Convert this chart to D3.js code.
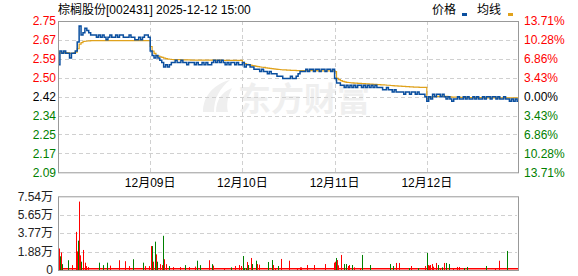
<html>
<head>
<meta charset="utf-8">
<script src="https://d3js.org/d3.v7.min.js"></script>
<style>
body { margin: 0; background: #fff; }
svg text { font-family: "Liberation Sans", Arial, "Noto Sans CJK SC", sans-serif; font-size: 12px; }
</style>
</head>
<body>
<svg id="chart" width="578" height="276"></svg>
<script>
var title = "棕榈股份[002431] 2025-12-12 15:00";
var preClose = 2.42;
var dayLabels = ["12月09日", "12月10日", "12月11日", "12月12日"];
var priceTicks = ["2.75", "2.67", "2.59", "2.50", "2.42", "2.34", "2.25", "2.17", "2.09"];
var pctTicks = ["13.71%", "10.28%", "6.86%", "3.43%", "0.00%", "3.43%", "6.86%", "10.28%", "13.71%"];
var volTicks = ["7.54万", "5.65万", "3.77万", "1.88万", "0"];

// price every 5 minutes, 48 per day
var day1Price = [2.56,2.62,2.61,2.62,2.61,2.61,2.59,2.61,2.61,2.62,2.66,2.73,2.69,2.70,2.72,2.71,
  2.70,2.69,2.69,2.69,2.68,2.69,2.68,2.69,2.68,2.67,2.68,2.69,2.68,2.68,2.69,2.68,
  2.69,2.69,2.68,2.68,2.68,2.69,2.68,2.68,2.67,2.67,2.68,2.67,2.68,2.69,2.69,2.68];
var day2Price = [2.62,2.60,2.59,2.60,2.59,2.58,2.57,2.55,2.56,2.55,2.56,2.57,2.57,2.58,2.57,2.57,
  2.58,2.57,2.57,2.56,2.57,2.57,2.57,2.56,2.57,2.56,2.56,2.57,2.56,2.57,2.56,2.56,
  2.57,2.58,2.57,2.58,2.57,2.58,2.57,2.56,2.57,2.56,2.57,2.57,2.56,2.57,2.56,2.56];
var day3Price = [2.57,2.55,2.56,2.56,2.55,2.55,2.54,2.54,2.54,2.53,2.54,2.53,2.53,2.52,2.53,2.52,
  2.52,2.52,2.51,2.51,2.51,2.50,2.50,2.50,2.50,2.51,2.50,2.50,2.51,2.52,2.53,2.53,
  2.53,2.54,2.53,2.54,2.54,2.53,2.54,2.54,2.53,2.54,2.54,2.53,2.54,2.54,2.53,2.54];
var day4Price = [2.50,2.48,2.48,2.47,2.47,2.46,2.47,2.46,2.47,2.46,2.47,2.46,2.47,2.47,2.46,2.47,
  2.46,2.47,2.46,2.47,2.46,2.47,2.46,2.46,2.46,2.45,2.45,2.46,2.45,2.45,2.44,2.45,
  2.44,2.44,2.44,2.44,2.43,2.44,2.44,2.43,2.44,2.44,2.43,2.44,2.43,2.43,2.43,2.42];
var day5Price = [2.40,2.42,2.41,2.43,2.42,2.43,2.43,2.42,2.43,2.42,2.41,2.42,2.41,2.40,2.41,2.41,
  2.42,2.41,2.41,2.42,2.41,2.42,2.41,2.41,2.42,2.41,2.42,2.41,2.41,2.42,2.41,2.42,
  2.42,2.41,2.42,2.42,2.41,2.42,2.41,2.41,2.42,2.41,2.41,2.40,2.41,2.40,2.41,2.40];

var day1Avg = [2.610,2.612,2.612,2.613,2.613,2.612,2.610,2.610,2.612,2.615,2.630,2.650,2.657,2.662,2.663,2.664,
  2.665,2.666,2.666,2.666,2.666,2.666,2.666,2.666,2.666,2.666,2.666,2.666,2.666,2.666,2.666,2.666,
  2.666,2.666,2.666,2.666,2.666,2.666,2.666,2.666,2.666,2.666,2.666,2.666,2.666,2.666,2.666,2.666];
var day2Avg = [2.640,2.620,2.610,2.600,2.598,2.595,2.592,2.589,2.587,2.585,2.584,2.583,2.582,2.582,2.582,2.582,
  2.581,2.581,2.581,2.581,2.581,2.580,2.580,2.580,2.580,2.580,2.580,2.580,2.580,2.580,2.580,2.580,
  2.580,2.580,2.580,2.580,2.580,2.579,2.579,2.579,2.579,2.579,2.579,2.579,2.579,2.579,2.579,2.579];
var day3Avg = [2.570,2.565,2.562,2.560,2.558,2.556,2.555,2.553,2.552,2.550,2.549,2.548,2.546,2.545,2.544,2.543,
  2.542,2.541,2.540,2.539,2.538,2.537,2.537,2.536,2.536,2.535,2.535,2.535,2.534,2.534,2.534,2.534,
  2.534,2.534,2.534,2.534,2.534,2.534,2.534,2.533,2.533,2.533,2.533,2.533,2.533,2.533,2.533,2.533];
var day4Avg = [2.530,2.500,2.495,2.490,2.487,2.485,2.483,2.482,2.481,2.480,2.479,2.479,2.478,2.478,2.477,2.477,
  2.476,2.476,2.475,2.475,2.474,2.474,2.473,2.473,2.472,2.472,2.471,2.470,2.470,2.469,2.468,2.467,
  2.467,2.466,2.466,2.465,2.465,2.464,2.464,2.463,2.463,2.462,2.462,2.462,2.461,2.461,2.461,2.461];
var day5Avg = [2.410,2.418,2.418,2.420,2.420,2.421,2.421,2.421,2.421,2.421,2.421,2.419,2.419,2.418,2.418,2.418,
  2.418,2.417,2.417,2.417,2.417,2.417,2.416,2.416,2.416,2.416,2.416,2.416,2.416,2.416,2.416,2.415,
  2.415,2.415,2.415,2.415,2.415,2.415,2.415,2.415,2.415,2.415,2.415,2.415,2.415,2.415,2.415,2.415];

// volume bars: minute index (240 per day), amount in 万, 1 = up (red) / 0 = down (green)
var volMinute = [3,6,8,11,26,36,48,50,53,55,
  57,61,64,66,69,73,77,108,118,128,
  135,158,174,186,194,220,226,238,242,245,
  248,252,255,258,265,270,273,276,281,290,
  300,318,331,340,357,363,370,394,400,404,
  432,450,462,472,477,482,485,489,493,495,
  503,506,515,517,524,547,558,560,565,573,
  581,600,623,629,633,649,667,696,718,720,
  724,725,728,737,745,750,756,758,766,770,
  785,792,813,865,873,881,888,914,920,938,
  956,961,964,966,969,974,977,985,990,995,
  1000,1006,1011,1019,1029,1039,1045,1058,1065,1115,
  1138,1149,1170,1198];
var volAmount = [2.2,1.4,1.8,0.6,1.0,0.5,3.9,1.9,3.0,7.0,
  1.5,0.85,1.9,2.05,0.75,0.4,0.3,0.75,0.5,0.75,
  0.45,1.0,0.9,0.4,1.1,0.75,0.4,0.4,2.45,2.45,
  0.85,2.9,1.6,0.85,0.6,0.5,3.5,1.1,0.6,0.4,
  0.3,0.3,0.5,0.3,0.35,0.95,0.5,1.0,0.6,0.45,
  0.2,0.27,0.41,0.51,0.41,1.43,0.2,0.2,0.82,0.51,
  1.23,0.61,0.95,0.61,0.55,0.82,1.02,0.51,0.2,0.41,
  1.13,0.95,0.2,0.27,0.27,0.51,0.51,0.61,0.75,0.85,
  1.23,1.02,0.48,1.54,0.61,0.61,0.41,0.51,0.51,0.27,
  0.2,1.54,0.51,0.61,0.41,0.72,0.72,0.2,0.41,0.2,
  0.41,1.74,0.51,0.45,0.51,0.61,0.34,0.72,0.51,0.2,
  0.27,0.72,0.72,0.61,0.2,0.31,0.31,0.2,0.31,0.41,
  0.2,0.95,1.95,0.2];
var volUp = [1,0,1,0,0,1,1,1,0,1,
  1,0,0,1,1,1,1,0,0,0,
  1,1,1,1,0,0,1,1,1,0,
  1,0,1,0,1,1,0,1,1,0,
  1,1,0,1,1,0,0,1,0,1,
  1,0,1,1,1,0,0,0,1,0,
  1,0,0,1,1,0,0,1,1,0,
  1,1,1,1,1,1,1,1,1,1,
  0,1,1,1,0,0,1,1,0,1,
  1,0,0,0,0,1,1,0,1,0,
  1,0,1,1,1,1,1,1,0,1,
  0,1,0,0,1,1,1,0,0,0,
  1,1,0,1];

var svg = d3.select("#chart");
var L = 58, R = 519, T = 21, B = 172.3;
var VT = 196.3, VB = 270;
var red = "#ff0000", green = "#008000";

var range = preClose * 0.1371;
var x = d3.scaleLinear().domain([0, 1200]).range([L, R]);
var y = d3.scaleLinear().domain([preClose - range, preClose + range]).range([B, T]);
var v = d3.scaleLinear().domain([0, 7.54]).range([VB, VT]);

function colorAt(k) { return k < 4 ? red : (k == 4 ? "#000" : green); }

// watermark
var wm = svg.append("g").attr("fill", "#efefef");
wm.append("path").attr("d", "M203,112 C203,96 214,84 230,80 C220,88 214,98 214,112 Z M216,112 C216,100 222,92 232,88 C228,96 226,104 228,112 Z");
wm.append("text").attr("x", 238).attr("y", 111).style("font-size", "33px").style("font-weight", "bold")
  .style("font-family", "'Noto Sans CJK SC', sans-serif").text("东方财富");

// price grid
var gridVals = d3.range(9).map(function(k) { return preClose + range - k * range / 4; });
svg.append("g").selectAll("line").data(gridVals.slice(1, 8)).enter().append("line")
  .attr("x1", L).attr("x2", R)
  .attr("y1", function(d) { return Math.round(y(d)) + 0.5; })
  .attr("y2", function(d) { return Math.round(y(d)) + 0.5; })
  .attr("stroke", "#d0d0d0").attr("stroke-dasharray", "4,3");
svg.append("g").selectAll("line").data([240, 480, 720, 960]).enter().append("line")
  .attr("x1", function(d) { return Math.round(x(d)) + 0.5; })
  .attr("x2", function(d) { return Math.round(x(d)) + 0.5; })
  .attr("y1", T).attr("y2", B)
  .attr("stroke", "#d0d0d0").attr("stroke-dasharray", "4,3");

// price labels
svg.append("g").selectAll("text").data(priceTicks).enter().append("text")
  .attr("x", 56).attr("y", function(d, i) { return y(gridVals[i]); })
  .attr("dy", "0.35em").attr("text-anchor", "end")
  .attr("fill", function(d, i) { return colorAt(i); }).text(function(d) { return d; });
svg.append("g").selectAll("text").data(pctTicks).enter().append("text")
  .attr("x", 524).attr("y", function(d, i) { return y(gridVals[i]); })
  .attr("dy", "0.35em")
  .attr("fill", function(d, i) { return colorAt(i); }).text(function(d) { return d; });

// day labels
svg.append("g").selectAll("text").data(dayLabels).enter().append("text")
  .attr("x", function(d, i) { return x(240 * (i + 1)); }).attr("y", 187)
  .attr("text-anchor", "middle").attr("fill", "#000").text(function(d) { return d; });

// series
var days = [day1Price, day2Price, day3Price, day4Price, day5Price];
var avgs = [day1Avg, day2Avg, day3Avg, day4Avg, day5Avg];
var pricePts = [], avgPts = [];
days.forEach(function(arr, d) {
  arr.forEach(function(p, i) {
    pricePts.push([d * 240 + i * 5, p]);
    avgPts.push([d * 240 + i * 5, avgs[d][i]]);
  });
});
pricePts.push([1200, day5Price[day5Price.length - 1]]);
avgPts.push([1200, day5Avg[day5Avg.length - 1]]);

var line = d3.line().x(function(d) { return x(d[0]); }).y(function(d) { return y(d[1]); })
  .curve(d3.curveStepAfter);
svg.append("path").datum(avgPts).attr("d", line).attr("fill", "none")
  .attr("stroke", "#e0a21c").attr("stroke-width", 1.2);
svg.append("path").datum(pricePts).attr("d", line).attr("fill", "none")
  .attr("stroke", "#0b4f9f").attr("stroke-width", 1.5);

// frame
svg.append("rect").attr("x", L + 0.5).attr("y", T + 0.5).attr("width", R - L - 1).attr("height", B - T)
  .attr("fill", "none").attr("stroke", "#999");

// volume grid + labels
var volGrid = d3.range(5).map(function(k) { return 7.54 - k * 7.54 / 4; });
svg.append("g").selectAll("line").data(volGrid.slice(1, 4)).enter().append("line")
  .attr("x1", L + 2).attr("x2", R - 2)
  .attr("y1", function(d) { return Math.round(v(d)) + 0.5; })
  .attr("y2", function(d) { return Math.round(v(d)) + 0.5; })
  .attr("stroke", "#d0d0d0").attr("stroke-dasharray", "4,3");
svg.append("g").selectAll("text").data(volTicks).enter().append("text")
  .attr("x", 53).attr("y", function(d, i) { return v(volGrid[i]); })
  .attr("dy", "0.35em").attr("text-anchor", "end").attr("fill", "#222")
  .text(function(d) { return d; });

// volume bars
svg.append("rect").attr("x", L + 1).attr("y", VB - 2).attr("width", R - L - 2).attr("height", 1.5).attr("fill", red);
svg.append("g").selectAll("rect").data(volMinute).enter().append("rect")
  .attr("x", function(d) { return Math.round(x(d)); })
  .attr("y", function(d, i) { return v(volAmount[i]); })
  .attr("width", 1)
  .attr("height", function(d, i) { return VB - v(volAmount[i]); })
  .attr("fill", function(d, i) { return volUp[i] ? red : green; });
svg.append("rect").attr("x", L + 0.5).attr("y", VT + 0.5).attr("width", R - L - 1).attr("height", VB - VT)
  .attr("fill", "none").attr("stroke", "#999");

// title + legend
svg.append("text").attr("x", 58).attr("y", 14).attr("fill", "#000").text(title);
svg.append("text").attr("x", 432).attr("y", 14).attr("fill", "#000").text("价格");
svg.append("rect").attr("x", 462).attr("y", 13).attr("width", 5).attr("height", 3).attr("fill", "#0b4f9f");
svg.append("text").attr("x", 477).attr("y", 14).attr("fill", "#000").text("均线");
svg.append("rect").attr("x", 508).attr("y", 13).attr("width", 5).attr("height", 3).attr("fill", "#e0a21c");
</script>
</body>
</html>
